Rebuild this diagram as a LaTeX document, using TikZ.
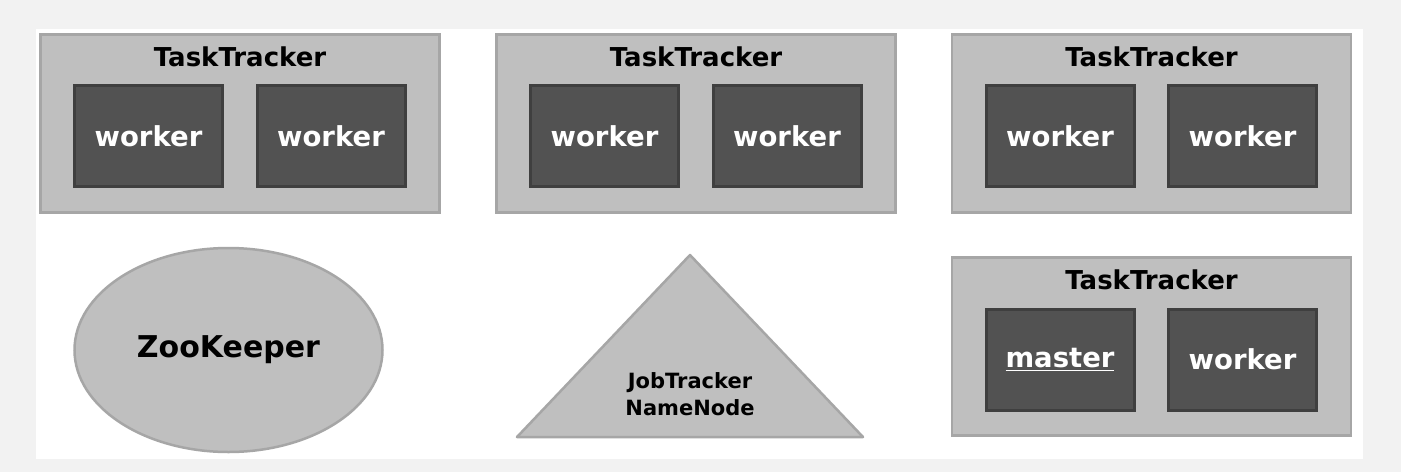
\documentclass[tikz,border=0pt]{standalone}
\usepackage{fontspec}
\setmainfont{DejaVu Sans}
\usepackage{tikz}
\usetikzlibrary{shapes.geometric}
\definecolor{pagegrey}{HTML}{F2F2F2}
\definecolor{boxgrey}{HTML}{BFBFBF}
\definecolor{edgegrey}{HTML}{A6A6A6}
\definecolor{workgrey}{HTML}{525252}
\definecolor{workedge}{HTML}{3F3F3F}
\tikzset{
	trackerbox/.style={draw=edgegrey, fill=boxgrey, line width=2.5pt, minimum width=399pt, minimum height=178pt, inner sep=0pt},
	workerbox/.style={draw=workedge, fill=workgrey, line width=3pt, minimum width=148pt, minimum height=101pt, inner sep=0pt, text=white, font=\bfseries\fontsize{27.5}{32}\selectfont},
	title/.style={font=\bfseries\fontsize{26}{30}\selectfont},
	shapebox/.style={draw=edgegrey, fill=boxgrey, line width=2.5pt}
}

\begin{document}
\begin{tikzpicture}[x=1pt, y=-1pt]
		%%%%% START %%%%%
		
		\fill[pagegrey] (0, 0) rectangle (1401, 472);
		\fill[white] (36, 29) rectangle (1363, 459);
		\useasboundingbox (0, 0) rectangle (1401, 472);
		
		% task trackers in the top row
		\foreach \i/\cx in {1/240, 2/696, 3/1151.5} {
			\node[trackerbox] (tt\i) at (\cx, 123.5) {};
			\node[title] (tt\i title) at (\cx, 57) {TaskTracker};
			\node[workerbox] (tt\i a) at (\cx-91.5, 136) {worker};
			\node[workerbox] (tt\i b) at (\cx+91, 136) {worker};
		}
		
		% task tracker holding the master
		\node[trackerbox] (tt4) at (1151.5, 346.5) {};
		\node[title] (tt4title) at (1151.5, 280) {TaskTracker};
		\node[workerbox] (master) at (1060, 359.5) {\underline{master}};
		\node[workerbox] (tt4b) at (1242.5, 359.5) {worker};
		
		% zookeeper
		\node[ellipse, shapebox, minimum width=308pt, minimum height=204pt, inner sep=0pt,
			font=\bfseries\fontsize{30}{34}\selectfont] (zk) at (228.5, 350) {ZooKeeper};
		
		% jobtracker
		\draw[shapebox, line join=round] (517, 437) -- (690, 255) -- (863, 437) -- cycle;
		\node[align=center, font=\bfseries\fontsize{21}{27}\selectfont] (jt) at (690, 394) {JobTracker\\NameNode};
		
		%%%%% END %%%%%
	\end{tikzpicture}
\end{document}
